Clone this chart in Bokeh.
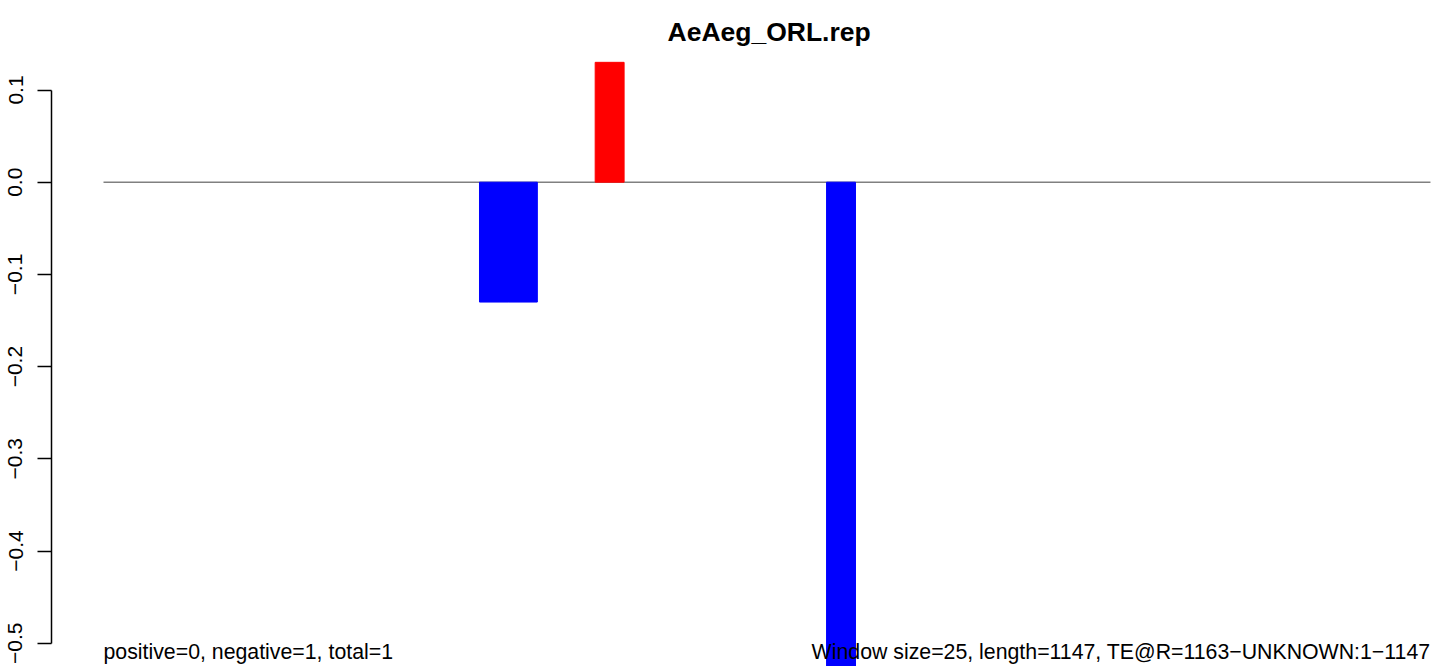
from bokeh.plotting import figure
from bokeh.models import Range1d, FixedTicker, Label
from bokeh.embed import file_html
from bokeh.resources import INLINE

# ---- data ----
title_text = "AeAeg_ORL.rep"
seq_length = 1147
window_size = 25
window_starts = [325, 350, 425, 625]
window_values = [-0.13, -0.13, 0.13, -0.53]
y_ticks = [0.1, 0.0, -0.1, -0.2, -0.3, -0.4, -0.5]
y_tick_labels = ["0.1", "0.0", "\u22120.1", "\u22120.2", "\u22120.3", "\u22120.4", "\u22120.5"]
left_note = "positive=0, negative=1, total=1"
right_note = "Window size=25, length=1147, TE@R=1163\u2212UNKNOWN:1\u22121147"

FONT = "Liberation Sans"

x_centers = [s + window_size / 2 for s in window_starts]
colors = ["#FF0000" if v > 0 else "#0000FF" for v in window_values]

px_per_x = 1.1569
px_per_y = 922.0
border_left = 51
border_top = 53
frame_w = 1385
frame_h = 613
x0 = (border_left - 103.0) / px_per_x
y_top = (181.7 - border_top) / px_per_y

p = figure(frame_width=frame_w, frame_height=frame_h,
           min_border_left=border_left, min_border_right=0,
           min_border_top=border_top, min_border_bottom=0,
           x_range=Range1d(x0, x0 + frame_w / px_per_x),
           y_range=Range1d(y_top - frame_h / px_per_y, y_top),
           output_backend="svg", toolbar_location=None,
           x_axis_location=None)
p.outline_line_color = None
p.grid.visible = False
p.background_fill_color = "white"
p.border_fill_color = "white"

p.title.text = title_text
p.title.text_font = FONT
p.title.text_font_size = "26.5px"
p.title.text_font_style = "bold"
p.title.text_color = "black"
p.title.align = "left"
p.title.offset = 616
p.title.standoff = 13

ax = p.yaxis[0]
ax.ticker = FixedTicker(ticks=y_ticks)
ax.major_label_overrides = {t: l for t, l in zip(y_ticks, y_tick_labels)}
ax.bounds = (min(y_ticks), max(y_ticks))
ax.major_label_orientation = "vertical"
ax.major_label_text_font = FONT
ax.major_label_text_font_size = "21px"
ax.major_label_text_color = "black"
ax.major_label_standoff = 15
ax.major_tick_out = 14
ax.major_tick_in = 0
ax.minor_tick_out = 0
ax.minor_tick_in = 0
ax.axis_line_width = 1.5
ax.major_tick_line_width = 1.5
ax.axis_line_color = "black"
ax.major_tick_line_color = "black"

# zero baseline across the sequence
p.segment(x0=[0], y0=[0], x1=[seq_length], y1=[0], line_color="#808080", line_width=1.6)

# window bars
p.vbar(x=x_centers, width=window_size, top=window_values, bottom=0,
       fill_color=colors, line_color=colors, line_width=1)

note_y = -(651 - 181.7) / px_per_y
p.add_layout(Label(x=0, y=note_y, text=left_note, text_font=FONT, text_font_size="21.3px",
                   text_align="left", text_baseline="alphabetic", text_color="black"))
p.add_layout(Label(x=seq_length, y=note_y, text=right_note, text_font=FONT, text_font_size="21.3px",
                   text_align="right", text_baseline="alphabetic", text_color="black"))

open("out.html", "w").write(file_html(p, INLINE))
